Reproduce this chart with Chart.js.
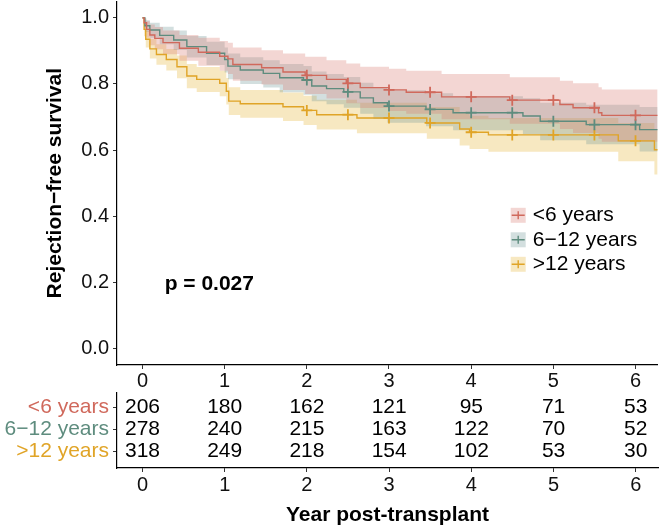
<!DOCTYPE html>
<html>
<head>
<meta charset="utf-8">
<script src="https://cdn.jsdelivr.net/npm/chart.js@4.4.1/dist/chart.umd.min.js"></script>
<style>
  html, body { margin: 0; padding: 0; background: #fff; }
  #wrap { position: relative; width: 664px; height: 528px; overflow: hidden; }
  canvas { position: absolute; left: 0; }
  #km { top: -6px; }
  #risk { top: 392px; }
</style>
</head>
<body>
<div id="wrap">
  <canvas id="km" width="665" height="398"></canvas>
  <canvas id="risk" width="664" height="136"></canvas>
</div>
<script>
// groups
var GROUPS = ['<6 years', '6\u221212 years', '>12 years'];
var LINE_COLS = ['#D0695C', '#5E8C7E', '#E0A427'];
var BAND_COLS = ['rgba(216,118,108,0.3)', 'rgba(110,150,150,0.3)', 'rgba(230,178,50,0.3)'];

// <6 years : time, survival, lower / upper CI
var T_LT6 = [0, 0.02, 0.05, 0.09, 0.15, 0.25, 0.45, 0.68, 0.94, 1.04, 1.1, 1.45, 1.71, 1.98, 2.24, 2.48, 2.65, 3.0, 3.21, 3.64, 4.47, 5.08, 5.24, 5.55, 5.59, 6.27];
var S_LT6 = [1.0, 0.985, 0.965, 0.948, 0.938, 0.925, 0.908, 0.896, 0.884, 0.876, 0.859, 0.849, 0.836, 0.826, 0.814, 0.802, 0.789, 0.782, 0.775, 0.761, 0.751, 0.738, 0.728, 0.713, 0.705, 0.705];
var U_LT6 = [1.0, 0.998, 0.99, 0.98, 0.972, 0.962, 0.948, 0.94, 0.93, 0.925, 0.91, 0.902, 0.892, 0.882, 0.872, 0.862, 0.852, 0.846, 0.84, 0.83, 0.82, 0.81, 0.802, 0.79, 0.783, 0.783];
var L_LT6 = [1.0, 0.968, 0.94, 0.917, 0.905, 0.89, 0.87, 0.855, 0.84, 0.83, 0.81, 0.798, 0.782, 0.77, 0.756, 0.742, 0.727, 0.718, 0.71, 0.693, 0.68, 0.664, 0.652, 0.634, 0.625, 0.625];

// 6-12 years
var T_612 = [0, 0.03, 0.09, 0.21, 0.38, 0.54, 0.78, 1.0, 1.04, 1.19, 1.47, 1.67, 1.96, 2.06, 2.24, 2.45, 2.65, 2.81, 2.98, 3.45, 3.78, 4.63, 4.84, 5.4, 6.05, 6.27];
var S_612 = [1.0, 0.976, 0.963, 0.947, 0.933, 0.913, 0.893, 0.874, 0.854, 0.842, 0.832, 0.819, 0.812, 0.794, 0.786, 0.776, 0.758, 0.743, 0.733, 0.723, 0.713, 0.703, 0.687, 0.677, 0.662, 0.662];
var U_612 = [1.0, 0.993, 0.985, 0.973, 0.962, 0.945, 0.928, 0.91, 0.892, 0.881, 0.872, 0.86, 0.854, 0.838, 0.83, 0.821, 0.804, 0.79, 0.781, 0.772, 0.763, 0.757, 0.743, 0.737, 0.73, 0.73];
var L_612 = [1.0, 0.958, 0.94, 0.92, 0.903, 0.88, 0.857, 0.835, 0.814, 0.8, 0.789, 0.775, 0.767, 0.748, 0.739, 0.728, 0.71, 0.694, 0.683, 0.672, 0.66, 0.648, 0.63, 0.618, 0.596, 0.596];

// >12 years
var T_GT12 = [0, 0.02, 0.04, 0.09, 0.17, 0.29, 0.42, 0.54, 0.66, 0.94, 1.02, 1.05, 1.19, 1.71, 1.96, 2.12, 2.61, 3.46, 3.86, 3.98, 4.21, 5.79, 6.23, 6.27];
var S_GT12 = [1.0, 0.965, 0.935, 0.906, 0.889, 0.874, 0.852, 0.824, 0.814, 0.802, 0.778, 0.748, 0.74, 0.731, 0.72, 0.707, 0.697, 0.682, 0.664, 0.654, 0.646, 0.628, 0.601, 0.601];
var U_GT12 = [1.0, 0.985, 0.96, 0.936, 0.92, 0.906, 0.886, 0.86, 0.851, 0.84, 0.818, 0.79, 0.782, 0.774, 0.764, 0.752, 0.743, 0.73, 0.713, 0.704, 0.697, 0.682, 0.66, 0.66];
var L_GT12 = [1.0, 0.944, 0.91, 0.877, 0.858, 0.841, 0.817, 0.787, 0.776, 0.763, 0.738, 0.706, 0.698, 0.688, 0.676, 0.662, 0.651, 0.634, 0.614, 0.603, 0.595, 0.566, 0.526, 0.526];

// censor marks (times)
var CENSOR_T = [2, 2.5, 3, 3.5, 4, 4.5, 5, 5.5, 6];

// risk table
var RISK_T = [0, 1, 2, 3, 4, 5, 6];
var RISK_LT6 = [206, 180, 162, 121, 95, 71, 53];
var RISK_612 = [278, 240, 215, 163, 122, 70, 52];
var RISK_GT12 = [318, 249, 218, 154, 102, 53, 30];

var X_TICKS = [0, 1, 2, 3, 4, 5, 6];
var Y_TICKS = [0, 0.2, 0.4, 0.6, 0.8, 1.0];
var P_TEXT = 'p = 0.027';

Chart.defaults.font.family = "'Liberation Sans', Arial, sans-serif";
Chart.defaults.color = '#111';

var curves = [
  {T: T_LT6, S: S_LT6, L: L_LT6, U: U_LT6},
  {T: T_612, S: S_612, L: L_612, U: U_612},
  {T: T_GT12, S: S_GT12, L: L_GT12, U: U_GT12}
];
var risk = [RISK_LT6, RISK_612, RISK_GT12];

function pts(T, V) {
  return T.map(function (t, i) { return {x: t, y: V[i]}; });
}
function stepAt(T, V, t) {
  var v = V[0];
  for (var i = 0; i < T.length; i++) { if (T[i] <= t) v = V[i]; }
  return v;
}

var datasets = [];
// bands first
curves.forEach(function (c, g) {
  datasets.push({data: pts(c.T, c.U), stepped: true, borderWidth: 0, pointRadius: 0,
    backgroundColor: BAND_COLS[g], fill: '+1'});
  datasets.push({data: pts(c.T, c.L), stepped: true, borderWidth: 0, pointRadius: 0, fill: false});
});
// lines
curves.forEach(function (c, g) {
  datasets.push({data: pts(c.T, c.S), stepped: true, borderWidth: 1.4, pointRadius: 0,
    borderColor: LINE_COLS[g], fill: false});
});
// censor crosses
curves.forEach(function (c, g) {
  datasets.push({data: CENSOR_T.map(function (t) { return {x: t, y: stepAt(c.T, c.S, t)}; }),
    showLine: false, pointStyle: 'cross', pointRadius: 5.5, pointBorderWidth: 1.8,
    pointBorderColor: LINE_COLS[g], borderColor: LINE_COLS[g], fill: false});
});

function axisTicks() {
  return {display: true, drawOnChartArea: false, drawTicks: true, tickLength: 4, color: '#333', lineWidth: 1};
}
function fixY(w) {
  return function (s) { s.width = w; s.paddingTop = 0; s.paddingBottom = 0; };
}
function fixX(h) {
  return function (s) { s.height = h; s.paddingLeft = 0; s.paddingRight = 0; };
}

var kmExtras = {
  id: 'kmExtras',
  afterDatasetsDraw: function (chart) {
    var ctx = chart.ctx, x = chart.scales.x, y = chart.scales.y, a = chart.chartArea;
    ctx.save();
    // p value
    ctx.font = "bold 21px 'Liberation Sans', Arial, sans-serif";
    ctx.fillStyle = '#000';
    ctx.textAlign = 'left';
    ctx.textBaseline = 'middle';
    ctx.fillText(P_TEXT, x.getPixelForValue(0.27), y.getPixelForValue(0.195));
    // legend
    ctx.font = "21px 'Liberation Sans', Arial, sans-serif";
    var lx = a.right - 147, ly = a.top + 214;
    GROUPS.forEach(function (name, g) {
      var cy = ly + g * 24.5;
      ctx.fillStyle = BAND_COLS[g];
      ctx.fillRect(lx, cy - 7.5, 15, 15);
      ctx.strokeStyle = LINE_COLS[g];
      ctx.lineWidth = 1.4;
      ctx.beginPath();
      ctx.moveTo(lx + 1, cy); ctx.lineTo(lx + 14, cy);
      ctx.moveTo(lx + 7.5, cy - 4); ctx.lineTo(lx + 7.5, cy + 4);
      ctx.stroke();
      ctx.fillStyle = '#000';
      ctx.fillText(name, lx + 22, cy);
    });
    ctx.restore();
  }
};

new Chart(document.getElementById('km'), {
  type: 'line',
  data: {datasets: datasets},
  options: {
    responsive: false,
    animation: false,
    layout: {padding: 0},
    plugins: {legend: {display: false}, tooltip: {enabled: false}, filler: {drawTime: 'beforeDatasetsDraw'}},
    scales: {
      x: {
        type: 'linear', min: -0.31, max: 6.27,
        afterBuildTicks: function (s) { s.ticks = X_TICKS.map(function (v) { return {value: v}; }); },
        afterFit: fixX(27),
        grid: axisTicks(),
        border: {display: true, color: '#000', width: 1.2},
        ticks: {font: {size: 20}, padding: 0, maxRotation: 0}
      },
      y: {
        type: 'linear', min: -0.05, max: 1.05,
        afterBuildTicks: function (s) { s.ticks = Y_TICKS.map(function (v) { return {value: v}; }); },
        afterFit: fixY(117),
        grid: axisTicks(),
        border: {display: true, color: '#000', width: 1.2},
        ticks: {font: {size: 20}, padding: 4, callback: function (v) { return v.toFixed(1); }},
        title: {display: true, text: 'Rejection\u2212free survival', color: '#000',
          font: {size: 21, weight: 'bold'}, padding: {top: 43, bottom: 0}}
      }
    }
  },
  plugins: [kmExtras]
});

var riskText = {
  id: 'riskText',
  afterDatasetsDraw: function (chart) {
    var ctx = chart.ctx, x = chart.scales.x, y = chart.scales.y;
    ctx.save();
    ctx.font = "21px 'Liberation Sans', Arial, sans-serif";
    ctx.fillStyle = '#000';
    ctx.textAlign = 'center';
    ctx.textBaseline = 'middle';
    risk.forEach(function (row, r) {
      row.forEach(function (n, i) {
        ctx.fillText(String(n), x.getPixelForValue(RISK_T[i]), y.getPixelForValue(r + 1));
      });
    });
    ctx.restore();
  }
};

new Chart(document.getElementById('risk'), {
  type: 'scatter',
  data: {datasets: []},
  options: {
    responsive: false,
    animation: false,
    layout: {padding: {top: 1, right: 6, left: 0, bottom: 0}},
    plugins: {legend: {display: false}, tooltip: {enabled: false}},
    scales: {
      x: {
        type: 'linear', min: -0.31, max: 6.27,
        afterBuildTicks: function (s) { s.ticks = X_TICKS.map(function (v) { return {value: v}; }); },
        afterFit: fixX(60),
        grid: axisTicks(),
        border: {display: true, color: '#000', width: 1.2},
        ticks: {font: {size: 20}, padding: 1, maxRotation: 0},
        title: {display: true, text: 'Year post-transplant', color: '#000',
          font: {size: 21, weight: 'bold'}, padding: {top: 0, bottom: 0}}
      },
      y: {
        type: 'linear', min: 0.35, max: 3.75, reverse: true,
        afterBuildTicks: function (s) { s.ticks = [1, 2, 3].map(function (v) { return {value: v}; }); },
        afterFit: fixY(117),
        grid: axisTicks(),
        border: {display: true, color: '#000', width: 1.2},
        ticks: {font: {size: 21}, padding: 4,
          callback: function (v) { return GROUPS[v - 1]; },
          color: function (c) { return LINE_COLS[c.index]; }}
      }
    }
  },
  plugins: [riskText]
});
</script>
</body>
</html>
